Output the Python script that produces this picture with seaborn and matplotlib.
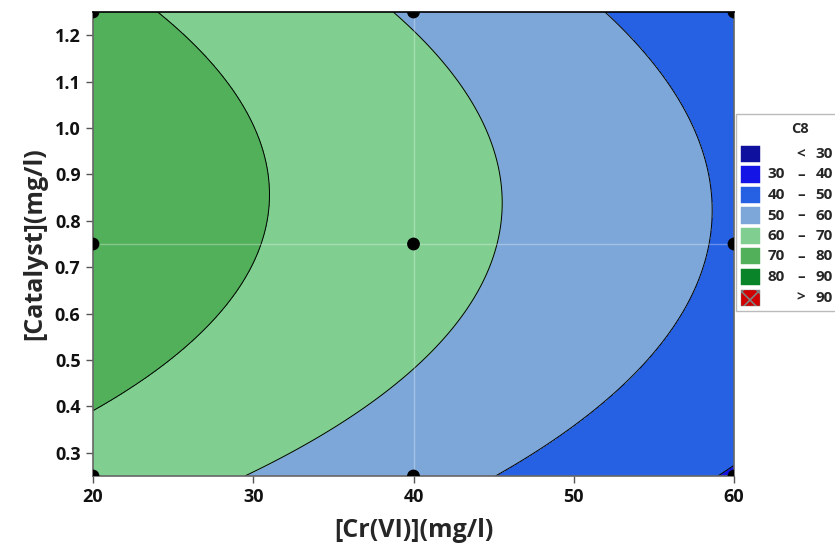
import numpy as np
import pandas as pd
import matplotlib
matplotlib.use("Agg")
import matplotlib.pyplot as plt
from matplotlib.patches import Rectangle
import seaborn as sns

# Design points (3x3 factorial) and response C8
cr_levels = [20, 40, 60]
cat_levels = [0.25, 0.75, 1.25]
c8_at_cat_025 = [65.43, 53.31, 39.32]
c8_at_cat_075 = [76.51, 63.57, 48.75]
c8_at_cat_125 = [72.40, 59.30, 43.36]

band_edges = [0, 30, 40, 50, 60, 70, 80, 90, 1000]
band_labels = [("", "<", "30"), ("30", "–", "40"), ("40", "–", "50"), ("50", "–", "60"),
               ("60", "–", "70"), ("70", "–", "80"), ("80", "–", "90"), ("", ">", "90")]
band_colors = ["#10109E", "#1414E6", "#2660E3", "#7DA7D9",
               "#80CE90", "#52AF5A", "#0A8428", "#D00000"]
x_ticks = [20, 30, 40, 50, 60]
y_ticks = [0.3, 0.4, 0.5, 0.6, 0.7, 0.8, 0.9, 1.0, 1.1, 1.2]

sns.set_style("ticks")
plt.rcParams["font.family"] = ["Open Sans", "DejaVu Sans"]
plt.rcParams["hatch.linewidth"] = 1.2
WT = "bold"

rows = []
for cat, vals in zip(cat_levels, [c8_at_cat_025, c8_at_cat_075, c8_at_cat_125]):
    for cr, val in zip(cr_levels, vals):
        rows.append({"Cr": cr, "Cat": cat, "C8": val})
df = pd.DataFrame(rows)

# full quadratic response-surface fit (as Minitab does)
def design(x, y):
    u = (np.asarray(x, float) - 40) / 20
    v = (np.asarray(y, float) - 0.75) / 0.5
    return np.stack([np.ones_like(u), u, u * u, v, v * v, u * v], axis=-1)

coef, *_ = np.linalg.lstsq(design(df["Cr"].values, df["Cat"].values), df["C8"].values, rcond=None)

gx, gy = np.meshgrid(np.linspace(20, 60, 300), np.linspace(0.25, 1.25, 300))
gz = design(gx, gy) @ coef

fig = plt.figure(figsize=(8.35, 5.43), dpi=100)
ax = fig.add_axes([93 / 835, 1 - 476 / 543, (734 - 93) / 835, (476 - 12) / 543])
ax.contourf(gx, gy, gz, levels=band_edges, colors=band_colors)
ax.contour(gx, gy, gz, levels=band_edges[1:-1], colors="black", linewidths=0.7)
ax.axvline(40, color="white", alpha=0.3, lw=1)
ax.axhline(0.75, color="white", alpha=0.3, lw=1)
sns.scatterplot(data=df, x="Cr", y="Cat", ax=ax, color="black", s=85,
                edgecolor="none", clip_on=True, zorder=5, legend=False)

ax.set_xlim(20, 60)
ax.set_ylim(0.25, 1.25)
ax.set_xticks(x_ticks)
ax.set_yticks(y_ticks)
ax.set_yticklabels([f"{t:.1f}" for t in y_ticks])
ax.tick_params(direction="out", length=5, width=1, color="#555555",
               labelsize=13, labelcolor="#111111", pad=4)
for lab in ax.get_xticklabels() + ax.get_yticklabels():
    lab.set_fontweight(WT)
for side in ["left", "bottom", "right"]:
    ax.spines[side].set_color("#666666")
    ax.spines[side].set_linewidth(1.2)
ax.spines["top"].set_color("black")
ax.spines["top"].set_linewidth(1.2)
ax.set_xlabel("[Cr(VI)](mg/l)", fontsize=18, fontweight=WT, labelpad=8)
ax.set_ylabel("[Catalyst](mg/l)", fontsize=18, fontweight=WT, labelpad=5)

# legend panel
W, H = 835, 543
fig.patches.append(Rectangle((736 / W, 1 - 311 / H), 110 / W, (311 - 114) / H,
                             transform=fig.transFigure, facecolor="white",
                             edgecolor="#BBBBBB", lw=1))
fig.text(800 / W, 1 - 129 / H, "C8", ha="center", va="center", fontsize=10.5,
         fontweight=WT)
for i, (lab, col) in enumerate(zip(band_labels, band_colors)):
    yc = 154 + i * 20.5
    fig.patches.append(Rectangle((741 / W, 1 - (yc + 8) / H), 19 / W, 16 / H,
                                 transform=fig.transFigure, facecolor=col,
                                 edgecolor="#808080" if i == 7 else col, lw=0.3,
                                 hatch="xx" if i == 7 else None))
    a, d, b = lab
    fig.text(785 / W, 1 - yc / H, a, ha="right", va="center", fontsize=11, fontweight=WT)
    fig.text(801 / W, 1 - yc / H, d, ha="center", va="center", fontsize=11, fontweight=WT)
    fig.text(833 / W, 1 - yc / H, b, ha="right", va="center", fontsize=11, fontweight=WT)

fig.savefig("out.png", dpi=100)
